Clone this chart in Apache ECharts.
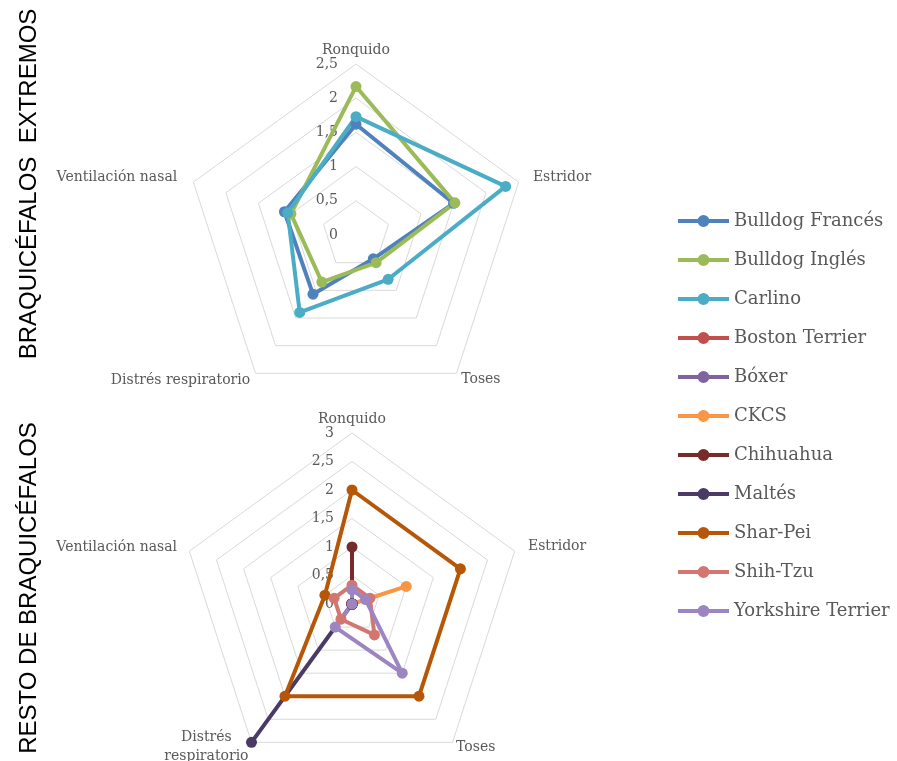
<!DOCTYPE html>
<html>
<head>
<meta charset="utf-8">
<script src="https://cdn.jsdelivr.net/npm/echarts@6.0.0/dist/echarts.min.js"></script>
<style>
  html, body { margin: 0; padding: 0; background: #ffffff; }
  #chart { width: 897px; height: 761px; }
</style>
</head>
<body>
<div id="chart"></div>
<script>
// Radar axes, listed counter-clockwise starting from the top spoke
const axesTop = ['Ronquido', 'Ventilación nasal', 'Distrés respiratorio', 'Toses', 'Estridor'];
const axesBottom = ['Ronquido', 'Ventilación nasal', 'Distrés\nrespiratorio', 'Toses', 'Estridor'];

// Extreme brachycephalic breeds (same axis order as above)
const bulldogFrances = [1.62, 1.10, 1.07, 0.43, 1.50];
const bulldogIngles  = [2.17, 1.00, 0.85, 0.50, 1.52];
const carlino        = [1.73, 1.05, 1.40, 0.80, 2.30];

// Remaining brachycephalic breeds
const bostonTerrier  = [0, 0, 0, 0, 0];
const boxer          = [0, 0, 0, 0, 0];
const ckcs           = [0, 0, 0, 0, 1];
const chihuahua      = [1, 0, 0, 0, 0];
const maltes         = [0, 0, 3, 0, 0];
const sharPei        = [2, 0.5, 2, 2, 2];
const shihTzu        = [0.33, 0.33, 0.33, 0.67, 0.33];
const yorkshire      = [0.25, 0, 0.5, 1.5, 0.25];

const topMax = 2.5;
const bottomMax = 3;

const breedsTop = [
  { name: 'Bulldog Francés', values: bulldogFrances, color: '#4F81BD' },
  { name: 'Bulldog Inglés', values: bulldogIngles, color: '#9BBB59' },
  { name: 'Carlino', values: carlino, color: '#4BACC6' }
];
const breedsBottom = [
  { name: 'Boston Terrier', values: bostonTerrier, color: '#C0504D' },
  { name: 'Bóxer', values: boxer, color: '#8064A2' },
  { name: 'CKCS', values: ckcs, color: '#F79646' },
  { name: 'Chihuahua', values: chihuahua, color: '#772C2A' },
  { name: 'Maltés', values: maltes, color: '#4A3A66' },
  { name: 'Shar-Pei', values: sharPei, color: '#B65708' },
  { name: 'Shih-Tzu', values: shihTzu, color: '#D47670' },
  { name: 'Yorkshire Terrier', values: yorkshire, color: '#9C85C0' }
];

const serif = 'DejaVu Serif';
const grey = '#595959';

function indicatorList(names, max, gaps) {
  return names.map((n, i) => ({
    name: n,
    min: 0,
    max: max,
    nameGap: gaps[i],
    axisLabel: { show: i === 0 }
  }));
}

// Multi-line axis names are centred line by line
function nameFormatter(name) {
  if (name.indexOf('\n') < 0) return name;
  return name.split('\n').map(part => '{c|' + part + '}').join('\n');
}

function radarBlock(names, max, split, center, gaps) {
  return {
    indicator: indicatorList(names, max, gaps),
    center: center,
    radius: 171,
    shape: 'polygon',
    splitNumber: split,
    startAngle: 90,
    axisName: {
      color: grey, fontFamily: serif, fontSize: 14,
      formatter: nameFormatter,
      rich: { c: { align: 'center', color: grey, fontFamily: serif, fontSize: 14, lineHeight: 19 } }
    },
    axisLine: { show: false },
    axisTick: { show: false },
    splitArea: { show: false },
    splitLine: { lineStyle: { color: '#D9D9D9', width: 1 } },
    axisLabel: {
      color: grey,
      fontFamily: serif,
      fontSize: 14,
      margin: 18,
      formatter: v => String(v).replace('.', ',')
    }
  };
}

function seriesFor(list, radarIndex) {
  return list.map(b => ({
    type: 'radar',
    radarIndex: radarIndex,
    name: b.name,
    symbol: 'circle',
    symbolSize: 11,
    silent: true,
    lineStyle: { color: b.color, width: 4 },
    itemStyle: { color: b.color, borderWidth: 0 },
    emphasis: { disabled: true },
    data: [{ name: b.name, value: b.values }]
  }));
}

const legendIcon = 'path://M0,4H51V8H0Z M19.5,6A6,6 0 1,1 31.5,6A6,6 0 1,1 19.5,6Z';

const chart = echarts.init(document.getElementById('chart'), null, { renderer: 'canvas' });
chart.setOption({
  animation: false,
  backgroundColor: '#ffffff',
  radar: [
    radarBlock(axesTop, topMax, 5, [356, 235], [7, 17, 9, 8, 15]),
    radarBlock(axesBottom, bottomMax, 6, [352, 604], [5, 13, 5, 6, 14])
  ],
  legend: {
    orient: 'vertical',
    left: 678,
    top: 211,
    padding: 0,
    icon: legendIcon,
    itemWidth: 51,
    itemHeight: 12,
    itemGap: 19,
    selectedMode: false,
    itemStyle: { borderWidth: 0 },
    textStyle: { color: grey, fontFamily: serif, fontSize: 18, lineHeight: 20 },
    data: breedsTop.concat(breedsBottom).map(b => b.name)
  },
  graphic: [
    {
      type: 'text',
      x: 29, y: 184,
      rotation: Math.PI / 2,
      style: {
        text: 'BRAQUICÉFALOS  EXTREMOS',
        fill: '#000000',
        font: '24px "Liberation Sans", Arial, sans-serif',
        align: 'center',
        verticalAlign: 'middle'
      }
    },
    {
      type: 'text',
      x: 29, y: 588,
      rotation: Math.PI / 2,
      style: {
        text: 'RESTO DE BRAQUICÉFALOS',
        fill: '#000000',
        font: '24px "Liberation Sans", Arial, sans-serif',
        align: 'center',
        verticalAlign: 'middle'
      }
    }
  ],
  series: seriesFor(breedsTop, 0).concat(seriesFor(breedsBottom, 1))
});
</script>
</body>
</html>
